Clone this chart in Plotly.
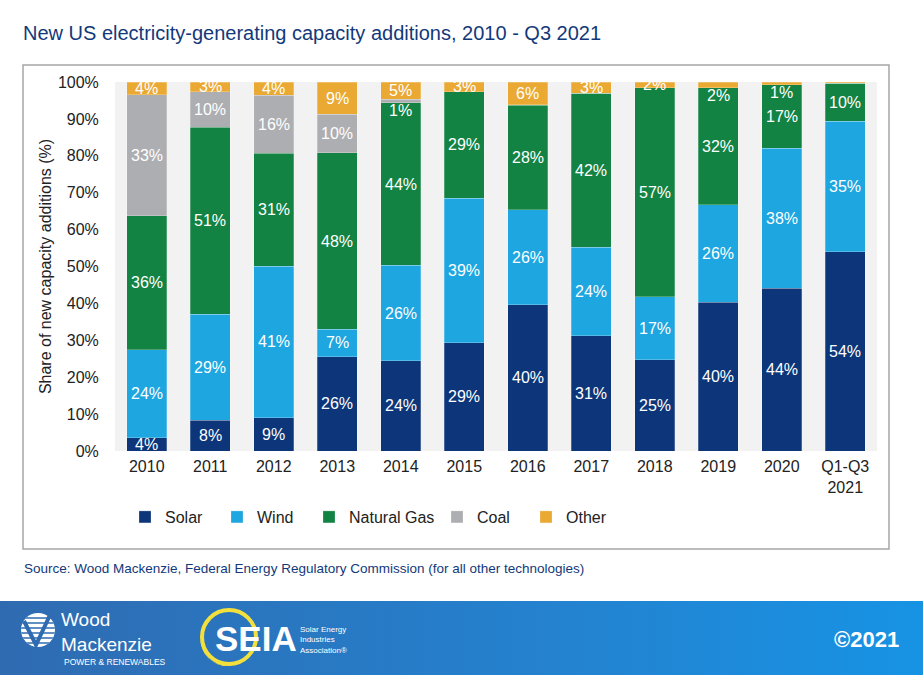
import base64
import plotly.graph_objects as go

# ---------------- data ----------------
categories = ["2010", "2011", "2012", "2013", "2014", "2015", "2016",
              "2017", "2018", "2019", "2020", "Q1-Q3<br>2021"]
solar = [3.6, 8.4, 9.0, 25.6, 24.4, 29.3, 39.6, 31.2, 24.7, 40.3, 44.1, 54.0]
wind = [23.8, 28.7, 41.1, 7.4, 25.9, 39.2, 25.8, 24.0, 17.1, 26.4, 37.9, 35.3]
natural_gas = [36.4, 50.7, 30.6, 47.8, 44.1, 28.9, 28.3, 41.7, 56.6, 31.7, 17.2, 10.3]
coal = [32.7, 9.5, 15.7, 10.4, 0.9, 0, 0.2, 0, 0, 0, 0, 0]
other = [3.5, 2.7, 3.6, 8.8, 4.7, 2.6, 6.1, 3.1, 1.6, 1.6, 0.8, 0.4]
y_ticks = [0, 10, 20, 30, 40, 50, 60, 70, 80, 90, 100]
y_tick_labels = ["0%", "10%", "20%", "30%", "40%", "50%", "60%", "70%", "80%", "90%", "100%"]

series = [
    ("Solar", solar, "#0c3679"),
    ("Wind", wind, "#1da6df"),
    ("Natural Gas", natural_gas, "#138343"),
    ("Coal", coal, "#adaeb1"),
    ("Other", other, "#eaa933"),
]

# labels that sit just below their (tiny) segment in the original
LABEL_BELOW = {("Other", "2019"), ("Other", "2020"), ("Coal", "2014")}
# legend text start (px) for each entry
LEGEND_TEXT_X = [165, 257, 349, 477, 566]

FONT = "Liberation Sans, Arial, Helvetica, sans-serif"
NAVY = "#12397a"
TXT = "#222222"

W, H = 923, 675
L, R, T, B = 115, 46, 82, 224
PW, PH = W - L - R, H - T - B


def px2x(px):
    return (px - L) / PW


def py2y(py):
    return (H - B - py) / PH


fig = go.Figure()
legend_layout = {}
for k, (name, vals, col) in enumerate(series):
    lg = "legend" if k == 0 else f"legend{k + 1}"
    fig.add_trace(go.Bar(
        name=name, x=categories, y=vals, legend=lg,
        marker=dict(color=col, line=dict(color="rgba(255,255,255,0.35)", width=0.7)),
    ))
    legend_layout[lg] = dict(
        orientation="h", x=px2x(LEGEND_TEXT_X[k] - 40), xanchor="left",
        y=py2y(517), yanchor="middle",
        font=dict(family=FONT, size=16, color=TXT), bgcolor="rgba(0,0,0,0)")

# data labels computed from the stacked values
annotations = []
base = [0.0] * len(categories)
for name, vals, col in series:
    for i, (c, v) in enumerate(zip(categories, vals)):
        if v >= 0.6:
            if (name, c) in LABEL_BELOW:
                annotations.append(dict(
                    x=i, y=base[i], xref="x", yref="y", text=f"{v:.0f}%",
                    showarrow=False, yanchor="top", yshift=3,
                    font=dict(family=FONT, size=16, color="white")))
            else:
                annotations.append(dict(
                    x=i, y=base[i] + v / 2, xref="x", yref="y", text=f"{v:.0f}%",
                    showarrow=False, yanchor="middle",
                    font=dict(family=FONT, size=16, color="white")))
        base[i] += v

# source line
annotations.append(dict(
    x=px2x(22), y=py2y(568), xref="paper", yref="paper", xanchor="left", yanchor="middle",
    text="Source: Wood Mackenzie, Federal Energy Regulatory Commission (for all other technologies)",
    showarrow=False, font=dict(family=FONT, size=13.5, color=NAVY)))


def foot(text, px, py, size, bold=False, anchor="left", color="white"):
    annotations.append(dict(
        x=px2x(px), y=py2y(py), xref="paper", yref="paper", xanchor=anchor, yanchor="middle",
        text=f"<b>{text}</b>" if bold else text, showarrow=False, align="left",
        font=dict(family=FONT, size=size, color=color)))


foot("Wood<br>Mackenzie", 59, 632, 19)
foot("POWER &amp; RENEWABLES", 62, 662, 8.5)
foot("SEIA", 256, 638, 35, bold=True, anchor="center")
foot("Solar Energy<br>Industries<br>Association®", 298, 640, 8)
foot("©2021", 901, 639, 22, bold=True, anchor="right")

svg = """<svg xmlns='http://www.w3.org/2000/svg' width='923' height='74' viewBox='0 0 923 74'>
<defs><linearGradient id='g' x1='0' x2='1' y1='0' y2='0'>
<stop offset='0' stop-color='#2f6bb1'/><stop offset='0.6' stop-color='#2482cf'/><stop offset='1' stop-color='#1793e4'/>
</linearGradient>
<clipPath id='c'><circle cx='38' cy='29' r='17'/></clipPath></defs>
<rect width='923' height='74' fill='url(#g)'/>
<circle cx='38' cy='29' r='17' fill='white'/>
<g clip-path='url(#c)' stroke='#2f6bb1' stroke-width='1.6'>
<line x1='18' y1='17' x2='58' y2='17'/><line x1='18' y1='22' x2='58' y2='22'/>
<line x1='18' y1='27' x2='58' y2='27'/><line x1='18' y1='32' x2='58' y2='32'/>
<line x1='18' y1='37' x2='58' y2='37'/><line x1='18' y1='42' x2='58' y2='42'/>
</g>
<path d='M24 20 L36 44 L50 14' fill='none' stroke='#2f6bb1' stroke-width='4'/>
<ellipse cx='229' cy='36' rx='27' ry='27' fill='none' stroke='#f3e03c' stroke-width='4'/>
<path d='M212 18 A24 24 0 0 0 240 60 A20 22 0 0 1 212 18 Z' fill='#f3e03c'/>
</svg>"""
svg_uri = "data:image/svg+xml;base64," + base64.b64encode(svg.encode()).decode()

fig.update_layout(
    width=W, height=H,
    margin=dict(l=L, r=R, t=T, b=B, autoexpand=False),
    paper_bgcolor="white", plot_bgcolor="#f2f2f2",
    barmode="stack", bargap=0.37,
    title=dict(text="New US electricity-generating capacity additions, 2010 - Q3 2021",
               x=23 / W, xanchor="left", xref="container",
               y=1 - 33 / H, yanchor="middle", yref="container",
               font=dict(family=FONT, size=20, color=NAVY)),
    xaxis=dict(type="category", showgrid=False, showline=False,
               ticks="outside", ticklen=1, tickcolor="rgba(0,0,0,0)",
               tickfont=dict(family=FONT, size=16, color=TXT)),
    yaxis=dict(range=[0, 100], tickmode="array", tickvals=y_ticks, ticktext=y_tick_labels,
               showgrid=False, zeroline=False, showline=False,
               ticks="outside", ticklen=12, tickcolor="rgba(0,0,0,0)",
               tickfont=dict(family=FONT, size=16, color=TXT),
               title=dict(text="Share of new capacity additions (%)", standoff=2,
                          font=dict(family=FONT, size=16, color=TXT))),
    shapes=[dict(type="rect", xref="paper", yref="paper",
                 x0=px2x(23), x1=px2x(889), y0=py2y(549), y1=py2y(65),
                 line=dict(color="#a6a6a6", width=1.5), fillcolor="rgba(0,0,0,0)",
                 layer="below")],
    images=[dict(source=svg_uri, xref="paper", yref="paper",
                 x=px2x(0), y=py2y(601), sizex=W / PW, sizey=74 / PH,
                 xanchor="left", yanchor="top", sizing="stretch", layer="above")],
    annotations=annotations,
    showlegend=True,
    **legend_layout,
)

fig.write_html("out.html", config={"displayModeBar": False},
               post_script="document.body.style.margin='0';document.body.style.padding='0';")
